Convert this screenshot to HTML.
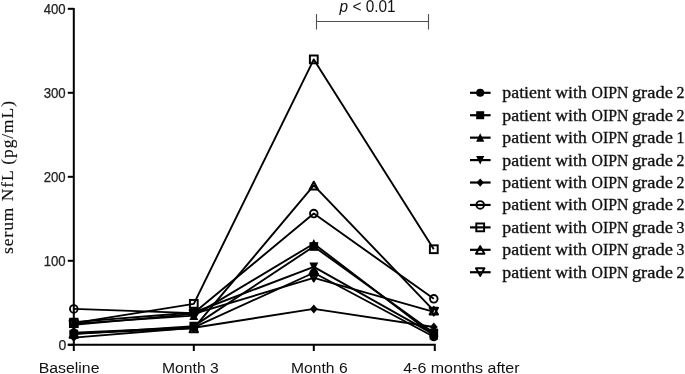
<!DOCTYPE html>
<html><head><meta charset="utf-8"><style>
html,body{margin:0;padding:0;background:#fff;}
svg{will-change:transform;}
body{width:685px;height:374px;overflow:hidden;}
svg{display:block;} text{paint-order:stroke;}
.yt{font-family:"Liberation Sans",sans-serif;font-size:14px;fill:#222;stroke:#222;stroke-width:0.25px;}
.xt{font-family:"Liberation Sans",sans-serif;font-size:15.5px;fill:#111;}
.yl{font-family:"Liberation Serif",serif;font-size:17.4px;fill:#111;stroke:#111;stroke-width:0.15px;}
.pt{font-family:"Liberation Sans",sans-serif;font-size:17.3px;fill:#111;}
.lg{font-family:"Liberation Serif",serif;font-size:17.5px;fill:#111;stroke:#111;stroke-width:0.35px;}
</style></head><body>
<svg width="685" height="374" viewBox="0 0 685 374">
<g stroke="#000" stroke-width="2" fill="none">
<path d="M73.8 7.9V351"/>
<path d="M67.8 344.8H434.8V351"/>
<path d="M67.8 344.80H74"/>
<path d="M67.8 260.80H74"/>
<path d="M67.8 176.80H74"/>
<path d="M67.8 92.80H74"/>
<path d="M67.8 8.80H74"/>
<path d="M193.80 344.8V351"/>
<path d="M313.80 344.8V351"/>
</g>
<g stroke="#000" stroke-width="1.90" fill="none" stroke-linejoin="round">
<polyline points="73.80,332.74 193.80,327.36 313.80,272.76 433.80,336.77"/>
<polyline points="73.80,334.08 193.80,326.10 313.80,246.47 433.80,332.99"/>
<polyline points="73.80,323.58 193.80,315.60 313.80,243.70 433.80,335.17"/>
<polyline points="73.80,322.15 193.80,312.49 313.80,266.88 433.80,334.42"/>
<polyline points="73.80,337.61 193.80,327.78 313.80,308.88 433.80,326.94"/>
<polyline points="73.80,308.88 193.80,313.08 313.80,213.54 433.80,298.80"/>
<polyline points="73.80,323.16 193.80,303.84 313.80,59.40 433.80,249.24"/>
<polyline points="73.80,333.66 193.80,328.20 313.80,185.40 433.80,310.56"/>
<polyline points="73.80,324.84 193.80,313.92 313.80,277.80 433.80,311.82"/>
</g>
<circle cx="73.80" cy="332.74" r="4.40" fill="#000"/>
<circle cx="193.80" cy="327.36" r="4.40" fill="#000"/>
<circle cx="313.80" cy="272.76" r="4.40" fill="#000"/>
<circle cx="433.80" cy="336.77" r="4.40" fill="#000"/>
<rect x="69.45" y="329.73" width="8.70" height="8.70" fill="#000"/>
<rect x="189.45" y="321.75" width="8.70" height="8.70" fill="#000"/>
<rect x="309.45" y="242.12" width="8.70" height="8.70" fill="#000"/>
<rect x="429.45" y="328.64" width="8.70" height="8.70" fill="#000"/>
<path d="M73.80 318.88L78.25 327.98L69.35 327.98Z" fill="#000"/>
<path d="M193.80 310.90L198.25 320.00L189.35 320.00Z" fill="#000"/>
<path d="M313.80 239.00L318.25 248.10L309.35 248.10Z" fill="#000"/>
<path d="M433.80 330.47L438.25 339.57L429.35 339.57Z" fill="#000"/>
<path d="M73.80 326.85L78.25 317.75L69.35 317.75Z" fill="#000"/>
<path d="M193.80 317.19L198.25 308.09L189.35 308.09Z" fill="#000"/>
<path d="M313.80 271.58L318.25 262.48L309.35 262.48Z" fill="#000"/>
<path d="M433.80 339.12L438.25 330.02L429.35 330.02Z" fill="#000"/>
<path d="M73.80 333.11L77.70 337.61L73.80 342.11L69.90 337.61Z" fill="#000"/>
<path d="M193.80 323.28L197.70 327.78L193.80 332.28L189.90 327.78Z" fill="#000"/>
<path d="M313.80 304.38L317.70 308.88L313.80 313.38L309.90 308.88Z" fill="#000"/>
<path d="M433.80 322.44L437.70 326.94L433.80 331.44L429.90 326.94Z" fill="#000"/>
<circle cx="73.80" cy="308.88" r="3.80" fill="none" stroke="#000" stroke-width="1.90"/>
<circle cx="193.80" cy="313.08" r="3.80" fill="none" stroke="#000" stroke-width="1.90"/>
<circle cx="313.80" cy="213.54" r="3.80" fill="none" stroke="#000" stroke-width="1.90"/>
<circle cx="433.80" cy="298.80" r="3.80" fill="none" stroke="#000" stroke-width="1.90"/>
<rect x="69.90" y="319.26" width="7.80" height="7.80" fill="none" stroke="#000" stroke-width="1.95"/>
<rect x="189.90" y="299.94" width="7.80" height="7.80" fill="none" stroke="#000" stroke-width="1.95"/>
<rect x="309.90" y="55.50" width="7.80" height="7.80" fill="none" stroke="#000" stroke-width="1.95"/>
<rect x="429.90" y="245.34" width="7.80" height="7.80" fill="none" stroke="#000" stroke-width="1.95"/>
<path d="M73.80 330.01L78.00 337.66L69.60 337.66Z" fill="none" stroke="#000" stroke-width="2.00" stroke-linejoin="round"/>
<path d="M193.80 324.55L198.00 332.20L189.60 332.20Z" fill="none" stroke="#000" stroke-width="2.00" stroke-linejoin="round"/>
<path d="M313.80 181.75L318.00 189.40L309.60 189.40Z" fill="none" stroke="#000" stroke-width="2.00" stroke-linejoin="round"/>
<path d="M433.80 306.91L438.00 314.56L429.60 314.56Z" fill="none" stroke="#000" stroke-width="2.00" stroke-linejoin="round"/>
<path d="M73.80 328.49L78.00 320.84L69.60 320.84Z" fill="none" stroke="#000" stroke-width="2.00" stroke-linejoin="round"/>
<path d="M193.80 317.57L198.00 309.92L189.60 309.92Z" fill="none" stroke="#000" stroke-width="2.00" stroke-linejoin="round"/>
<path d="M313.80 281.45L318.00 273.80L309.60 273.80Z" fill="none" stroke="#000" stroke-width="2.00" stroke-linejoin="round"/>
<path d="M433.80 315.47L438.00 307.82L429.60 307.82Z" fill="none" stroke="#000" stroke-width="2.00" stroke-linejoin="round"/>
<text x="66.4" y="350.20" text-anchor="end" class="yt">0</text>
<text x="65.7" y="266.20" text-anchor="end" class="yt" textLength="22.0" lengthAdjust="spacingAndGlyphs">100</text>
<text x="65.7" y="182.20" text-anchor="end" class="yt" textLength="22.0" lengthAdjust="spacingAndGlyphs">200</text>
<text x="65.7" y="98.20" text-anchor="end" class="yt" textLength="22.0" lengthAdjust="spacingAndGlyphs">300</text>
<text x="65.7" y="14.20" text-anchor="end" class="yt" textLength="22.0" lengthAdjust="spacingAndGlyphs">400</text>
<text x="38.7" y="372.6" class="xt" textLength="60.8" lengthAdjust="spacingAndGlyphs">Baseline</text>
<text x="162.0" y="372.6" class="xt" textLength="56.7" lengthAdjust="spacingAndGlyphs">Month 3</text>
<text x="291.1" y="372.6" class="xt" textLength="56.5" lengthAdjust="spacingAndGlyphs">Month 6</text>
<text x="403.2" y="372.6" class="xt" textLength="116.3" lengthAdjust="spacingAndGlyphs">4-6 months after</text>
<path d="M316.5 21.5H428.5M316.5 14V29.5M428.5 14V29.5" stroke="#505050" stroke-width="1.1" fill="none"/>
<text x="339.6" y="12.3" class="pt" textLength="56" lengthAdjust="spacingAndGlyphs"><tspan font-style="italic">p</tspan> &lt; 0.01</text>
<text transform="translate(12.8 254) rotate(-90)" class="yl" textLength="153" lengthAdjust="spacing">serum NfL (pg/mL)</text>
<path d="M470 92.80H490.6" stroke="#000" stroke-width="2.2"/>
<circle cx="480.20" cy="92.80" r="4.05" fill="#000"/>
<text y="98.30" class="lg"><tspan x="502.3" textLength="48.6" lengthAdjust="spacingAndGlyphs">patient</tspan><tspan x="555.3" textLength="31.5" lengthAdjust="spacingAndGlyphs">with</tspan><tspan x="591.5" textLength="36.8" lengthAdjust="spacingAndGlyphs">OIPN</tspan><tspan x="631.9" textLength="41.0" lengthAdjust="spacingAndGlyphs">grade</tspan><tspan x="676.6" textLength="7.9" lengthAdjust="spacingAndGlyphs">2</tspan></text>
<path d="M470 115.23H490.6" stroke="#000" stroke-width="2.2"/>
<rect x="476.20" y="111.23" width="8.00" height="8.00" fill="#000"/>
<text y="120.73" class="lg"><tspan x="502.3" textLength="48.6" lengthAdjust="spacingAndGlyphs">patient</tspan><tspan x="555.3" textLength="31.5" lengthAdjust="spacingAndGlyphs">with</tspan><tspan x="591.5" textLength="36.8" lengthAdjust="spacingAndGlyphs">OIPN</tspan><tspan x="631.9" textLength="41.0" lengthAdjust="spacingAndGlyphs">grade</tspan><tspan x="676.6" textLength="7.9" lengthAdjust="spacingAndGlyphs">2</tspan></text>
<path d="M470 137.66H490.6" stroke="#000" stroke-width="2.2"/>
<path d="M480.20 133.34L484.29 141.71L476.11 141.71Z" fill="#000"/>
<text y="143.16" class="lg"><tspan x="502.3" textLength="48.6" lengthAdjust="spacingAndGlyphs">patient</tspan><tspan x="555.3" textLength="31.5" lengthAdjust="spacingAndGlyphs">with</tspan><tspan x="591.5" textLength="36.8" lengthAdjust="spacingAndGlyphs">OIPN</tspan><tspan x="631.9" textLength="41.0" lengthAdjust="spacingAndGlyphs">grade</tspan><tspan x="676.6" textLength="7.9" lengthAdjust="spacingAndGlyphs">1</tspan></text>
<path d="M470 160.09H490.6" stroke="#000" stroke-width="2.2"/>
<path d="M480.20 164.41L484.29 156.04L476.11 156.04Z" fill="#000"/>
<text y="165.59" class="lg"><tspan x="502.3" textLength="48.6" lengthAdjust="spacingAndGlyphs">patient</tspan><tspan x="555.3" textLength="31.5" lengthAdjust="spacingAndGlyphs">with</tspan><tspan x="591.5" textLength="36.8" lengthAdjust="spacingAndGlyphs">OIPN</tspan><tspan x="631.9" textLength="41.0" lengthAdjust="spacingAndGlyphs">grade</tspan><tspan x="676.6" textLength="7.9" lengthAdjust="spacingAndGlyphs">2</tspan></text>
<path d="M470 182.52H490.6" stroke="#000" stroke-width="2.2"/>
<path d="M480.20 178.38L483.79 182.52L480.20 186.66L476.61 182.52Z" fill="#000"/>
<text y="188.02" class="lg"><tspan x="502.3" textLength="48.6" lengthAdjust="spacingAndGlyphs">patient</tspan><tspan x="555.3" textLength="31.5" lengthAdjust="spacingAndGlyphs">with</tspan><tspan x="591.5" textLength="36.8" lengthAdjust="spacingAndGlyphs">OIPN</tspan><tspan x="631.9" textLength="41.0" lengthAdjust="spacingAndGlyphs">grade</tspan><tspan x="676.6" textLength="7.9" lengthAdjust="spacingAndGlyphs">2</tspan></text>
<path d="M470 204.95H490.6" stroke="#000" stroke-width="2.2"/>
<circle cx="480.20" cy="204.95" r="3.80" fill="none" stroke="#000" stroke-width="1.90"/>
<text y="210.45" class="lg"><tspan x="502.3" textLength="48.6" lengthAdjust="spacingAndGlyphs">patient</tspan><tspan x="555.3" textLength="31.5" lengthAdjust="spacingAndGlyphs">with</tspan><tspan x="591.5" textLength="36.8" lengthAdjust="spacingAndGlyphs">OIPN</tspan><tspan x="631.9" textLength="41.0" lengthAdjust="spacingAndGlyphs">grade</tspan><tspan x="676.6" textLength="7.9" lengthAdjust="spacingAndGlyphs">2</tspan></text>
<path d="M470 227.38H490.6" stroke="#000" stroke-width="2.2"/>
<rect x="476.30" y="223.48" width="7.80" height="7.80" fill="none" stroke="#000" stroke-width="1.95"/>
<text y="232.88" class="lg"><tspan x="502.3" textLength="48.6" lengthAdjust="spacingAndGlyphs">patient</tspan><tspan x="555.3" textLength="31.5" lengthAdjust="spacingAndGlyphs">with</tspan><tspan x="591.5" textLength="36.8" lengthAdjust="spacingAndGlyphs">OIPN</tspan><tspan x="631.9" textLength="41.0" lengthAdjust="spacingAndGlyphs">grade</tspan><tspan x="676.6" textLength="7.9" lengthAdjust="spacingAndGlyphs">3</tspan></text>
<path d="M470 249.81H490.6" stroke="#000" stroke-width="2.2"/>
<path d="M480.20 246.16L484.40 253.81L476.00 253.81Z" fill="none" stroke="#000" stroke-width="2.00" stroke-linejoin="round"/>
<text y="255.31" class="lg"><tspan x="502.3" textLength="48.6" lengthAdjust="spacingAndGlyphs">patient</tspan><tspan x="555.3" textLength="31.5" lengthAdjust="spacingAndGlyphs">with</tspan><tspan x="591.5" textLength="36.8" lengthAdjust="spacingAndGlyphs">OIPN</tspan><tspan x="631.9" textLength="41.0" lengthAdjust="spacingAndGlyphs">grade</tspan><tspan x="676.6" textLength="7.9" lengthAdjust="spacingAndGlyphs">3</tspan></text>
<path d="M470 272.24H490.6" stroke="#000" stroke-width="2.2"/>
<path d="M480.20 275.89L484.40 268.24L476.00 268.24Z" fill="none" stroke="#000" stroke-width="2.00" stroke-linejoin="round"/>
<text y="277.74" class="lg"><tspan x="502.3" textLength="48.6" lengthAdjust="spacingAndGlyphs">patient</tspan><tspan x="555.3" textLength="31.5" lengthAdjust="spacingAndGlyphs">with</tspan><tspan x="591.5" textLength="36.8" lengthAdjust="spacingAndGlyphs">OIPN</tspan><tspan x="631.9" textLength="41.0" lengthAdjust="spacingAndGlyphs">grade</tspan><tspan x="676.6" textLength="7.9" lengthAdjust="spacingAndGlyphs">2</tspan></text>
</svg>
</body></html>
